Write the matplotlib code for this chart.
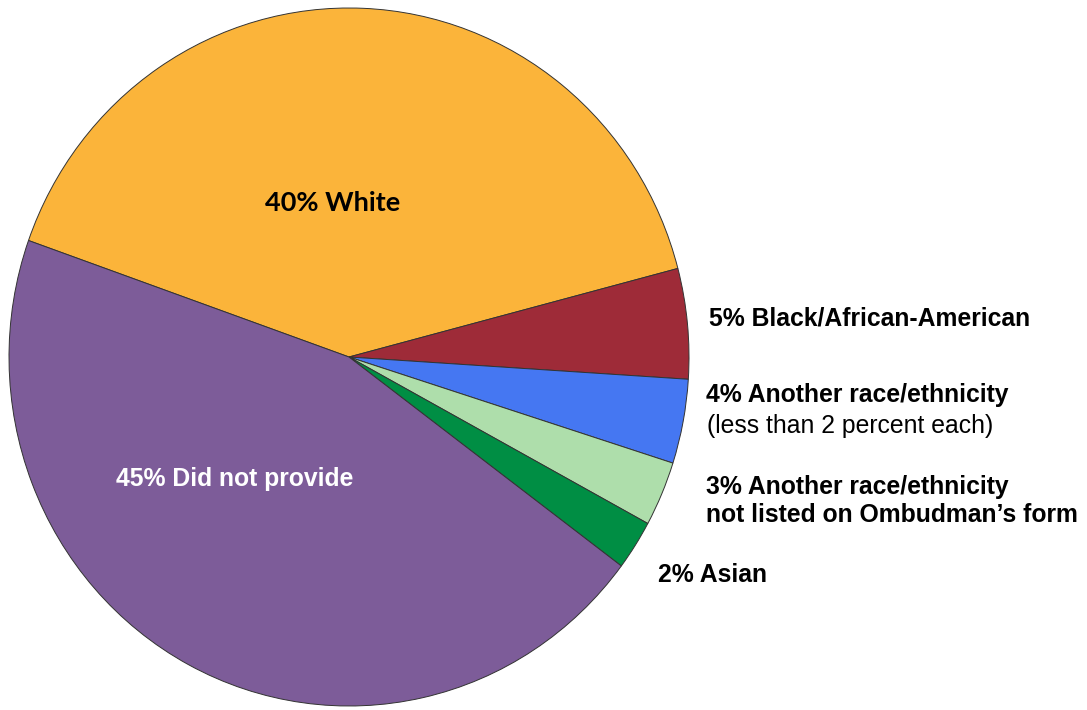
import matplotlib.pyplot as plt

W, H = 1087, 710

categories = ['White', 'Black/African-American', 'Another race/ethnicity',
              'Another race/ethnicity not listed', 'Asian', 'Did not provide']
shares = [40.5, 5.1, 3.9, 3.0, 2.3, 45.2]
colors = ['#FBB43A', '#9E2B38', '#4577F2', '#AEDEAB', '#008E44', '#7D5C99']

fig = plt.figure(figsize=(W / 100, H / 100), dpi=100)
# pie is slightly taller than wide in the reference
cx, cy, rx, ry = 349, 357, 340, 349
ax = fig.add_axes([(cx - rx) / W, 1 - (cy + ry) / H, 2 * rx / W, 2 * ry / H])

ax.pie(shares, colors=colors, startangle=160.5, counterclock=False,
       radius=1, wedgeprops=dict(edgecolor='#333333', linewidth=0.7))
ax.set_aspect('auto')
ax.set_xlim(-1, 1)
ax.set_ylim(-1, 1)
ax.axis('off')


def put(x, y, s, **kw):
    fig.text(x / W, 1 - y / H, s, va='center', **kw)


font = 'Liberation Sans'
fs = 17.8
put(333, 203, '40% White', ha='center', fontsize=19.5, fontweight='bold',
    family='Lato', color='black')
put(235, 479, '45% Did not provide', ha='center', fontsize=fs,
    fontweight='bold', family=font, color='white')
put(709, 318, '5% Black/African-American', ha='left', fontsize=fs,
    fontweight='bold', family=font)
put(706, 395, '4% Another race/ethnicity', ha='left', fontsize=fs,
    fontweight='bold', family=font)
put(707, 426, '(less than 2 percent each)', ha='left', fontsize=fs,
    family=font)
put(706, 487, '3% Another race/ethnicity', ha='left', fontsize=fs,
    fontweight='bold', family=font)
put(706, 515, 'not listed on Ombudman\u2019s form', ha='left', fontsize=fs,
    fontweight='bold', family=font)
put(658, 575, '2% Asian', ha='left', fontsize=fs, fontweight='bold',
    family=font)

fig.savefig('out.png', dpi=100)
